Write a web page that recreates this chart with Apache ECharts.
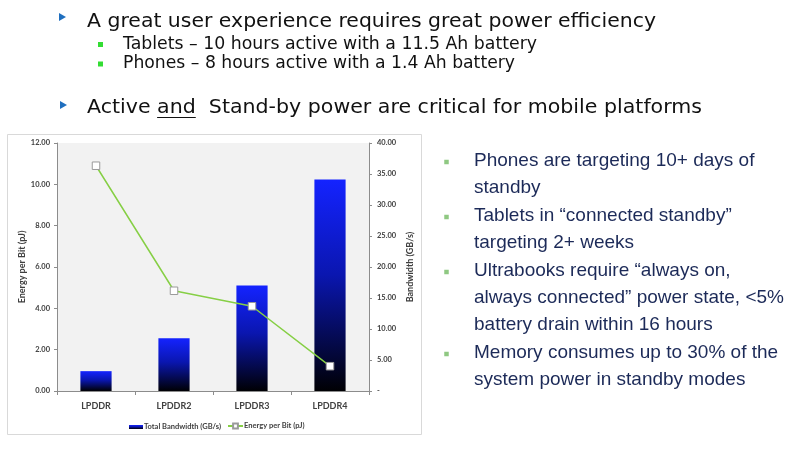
<!doctype html>
<html>
<head>
    <meta charset="utf-8">
    <title>Memory power</title>
    <style>
        html, body { margin: 0; padding: 0; background: #fff; }
        #chartEle { width: 800px; height: 450px; }
    </style>
</head>
<body>
<div id="chartEle"></div>
<script src="https://cdn.jsdelivr.net/npm/echarts@6/dist/echarts.min.js"></script>
<script>
    // chart data
    var categories = ['LPDDR', 'LPDDR2', 'LPDDR3', 'LPDDR4'];
    var bandwidth = [3.2, 8.5, 17.0, 34.1];      // GB/s, right axis
    var energyPerBit = [10.9, 4.85, 4.1, 1.2];   // pJ, left axis
    var leftTicks = {min: 0, max: 12, interval: 2};
    var rightTicks = {min: 0, max: 40, interval: 5};

    // slide texts
    var headLines = [
        'A great user experience requires great power efficiency',
        'Tablets \u2013 10 hours active with a 11.5 Ah battery',
        'Phones \u2013 8 hours active with a 1.4 Ah battery'
    ];
    var sideBullets = [
        ['Phones are targeting 10+ days of', 'standby'],
        ['Tablets in \u201cconnected standby\u201d', 'targeting 2+ weeks'],
        ['Ultrabooks require \u201calways on,', 'always connected\u201d power state, <5%', 'battery drain within 16 hours'],
        ['Memory consumes up to 30% of the', 'system power in standby modes']
    ];

    var ctx = document.createElement('canvas').getContext('2d');
    function textWidth(str, font) {
        ctx.font = font;
        return ctx.measureText(str).width;
    }

    var headFont = 'DejaVu Sans';
    var labelFont = 'Lato';
    var g = [];

    // chart frame
    g.push({type: 'rect', z: -5, shape: {x: 7.5, y: 134.5, width: 414, height: 300},
        style: {fill: '#fff', stroke: '#d9d9d9', lineWidth: 1}});

    // text squeezed to a given width (slide was scaled horizontally)
    function fitText(str, x, yMid, size, width, color, family) {
        var font = size + 'px "' + (family || headFont) + '"';
        var s = width / textWidth(str, font);
        g.push({type: 'text', x: x, y: yMid, scaleX: s,
            style: {text: str, x: 0, y: 0, fill: color, font: font,
                textAlign: 'left', textVerticalAlign: 'middle'}});
        return s;
    }
    function triangle(cx, cy) {
        g.push({type: 'polygon', shape: {points: [[cx - 3, cy - 4], [cx + 4, cy], [cx - 3, cy + 4]]},
            style: {fill: '#1f6fbf'}});
    }
    function square(cx, cy, size, color) {
        g.push({type: 'rect', shape: {x: cx - size / 2, y: cy - size / 2, width: size, height: size},
            style: {fill: color}});
    }

    triangle(62, 17);
    fitText(headLines[0], 87, 21.5, 20, 569, '#111');
    square(100.5, 44.5, 5, '#33dd33');
    fitText(headLines[1], 123, 44.5, 17, 414, '#111');
    square(100.5, 64, 5, '#33dd33');
    fitText(headLines[2], 123, 64, 17, 392, '#111');

    triangle(63, 105);
    var line2 = 'Active and  Stand-by power are critical for mobile platforms';
    var sc = fitText(line2, 87, 107.5, 20, 615, '#111');
    var f20 = '20px "' + headFont + '"';
    var ux0 = 87 + textWidth('Active ', f20) * sc;
    var ux1 = ux0 + textWidth('and', f20) * sc;
    g.push({type: 'line', shape: {x1: ux0, y1: 117.5, x2: ux1, y2: 117.5}, style: {stroke: '#111', lineWidth: 1.2}});

    // right-hand bullet list
    var by = 161, lh = 27, gap = 1;
    sideBullets.forEach(function (lines) {
        square(446.5, by + 1, 4.5, '#8fc882');
        lines.forEach(function (t) {
            g.push({type: 'text', x: 474, y: by,
                style: {text: t, fill: '#1c2a58', font: '19px "Liberation Sans"',
                    textAlign: 'left', textVerticalAlign: 'middle'}});
            by += lh;
        });
        by += gap;
    });

    var axisLine = {show: true, lineStyle: {color: '#8c8c8c', width: 1}};
    var axisTick = {show: true, length: 3, lineStyle: {color: '#8c8c8c'}};
    var axLabel = {color: '#404040', fontFamily: labelFont, fontWeight: 'bold', fontSize: 7.5};

    var myChart = echarts.init(document.getElementById('chartEle'), null, {renderer: 'canvas'});
    var option = {
        animation: false,
        backgroundColor: '#fff',
        graphic: g,
        grid: {
            left: 57, right: 431, top: 143, bottom: 59,
            show: true, backgroundColor: '#f2f2f2', borderWidth: 0
        },
        legend: [{
            data: ['Total Bandwidth (GB/s)'],
            left: 124, top: 418,
            icon: 'rect', itemWidth: 14, itemHeight: 4, itemGap: 2,
            textStyle: {color: '#404040', fontFamily: labelFont, fontSize: 7.5, fontWeight: 'bold', padding: [0, 0, 0, -4]}
        }, {
            data: ['Energy per Bit (pJ)'],
            left: 222, top: 417,
            itemWidth: 15, itemHeight: 6,
            textStyle: {color: '#404040', fontFamily: labelFont, fontSize: 7.5, fontWeight: 'bold', padding: [0, 0, 0, -4]}
        }],
        xAxis: {
            type: 'category',
            data: categories,
            axisLine: axisLine,
            axisTick: {show: true, length: 4, lineStyle: {color: '#8c8c8c'}},
            axisLabel: {color: '#404040', fontFamily: labelFont, fontWeight: 'bold', fontSize: 9, margin: 11},
            splitLine: {show: false}
        },
        yAxis: [{
            type: 'value',
            position: 'left',
            min: leftTicks.min, max: leftTicks.max, interval: leftTicks.interval,
            name: 'Energy per Bit (pJ)',
            nameLocation: 'middle', nameGap: 30, nameRotate: 90,
            nameTextStyle: {color: '#404040', fontFamily: labelFont, fontWeight: 'bold', fontSize: 9},
            axisLine: axisLine, axisTick: axisTick,
            axisLabel: Object.assign({margin: 7, formatter: function (v) { return v.toFixed(2); }}, axLabel),
            splitLine: {show: false}
        }, {
            type: 'value',
            position: 'right',
            min: rightTicks.min, max: rightTicks.max, interval: rightTicks.interval,
            name: 'Bandwidth (GB/s)',
            nameLocation: 'middle', nameGap: 37, nameRotate: 90,
            nameTextStyle: {color: '#404040', fontFamily: labelFont, fontWeight: 'bold', fontSize: 9},
            axisLine: axisLine, axisTick: axisTick,
            axisLabel: Object.assign({margin: 8, formatter: function (v) { return v === 0 ? '-' : v.toFixed(2); }}, axLabel),
            splitLine: {show: false}
        }],
        series: [{
            name: 'Total Bandwidth (GB/s)',
            type: 'bar',
            yAxisIndex: 1,
            barWidth: '40%',
            data: bandwidth,
            itemStyle: {
                color: new echarts.graphic.LinearGradient(0, 0, 0, 1, [
                    {offset: 0, color: '#1423ff'},
                    {offset: 0.45, color: '#0a16b0'},
                    {offset: 1, color: '#000004'}
                ])
            }
        }, {
            name: 'Energy per Bit (pJ)',
            type: 'line',
            yAxisIndex: 0,
            data: energyPerBit,
            symbol: 'rect',
            symbolSize: 7.5,
            lineStyle: {color: '#86cf45', width: 1.5},
            itemStyle: {color: '#fff', borderColor: '#9a9a9a', borderWidth: 1}
        }]
    };
    myChart.setOption(option);
</script>
</body>
</html>
